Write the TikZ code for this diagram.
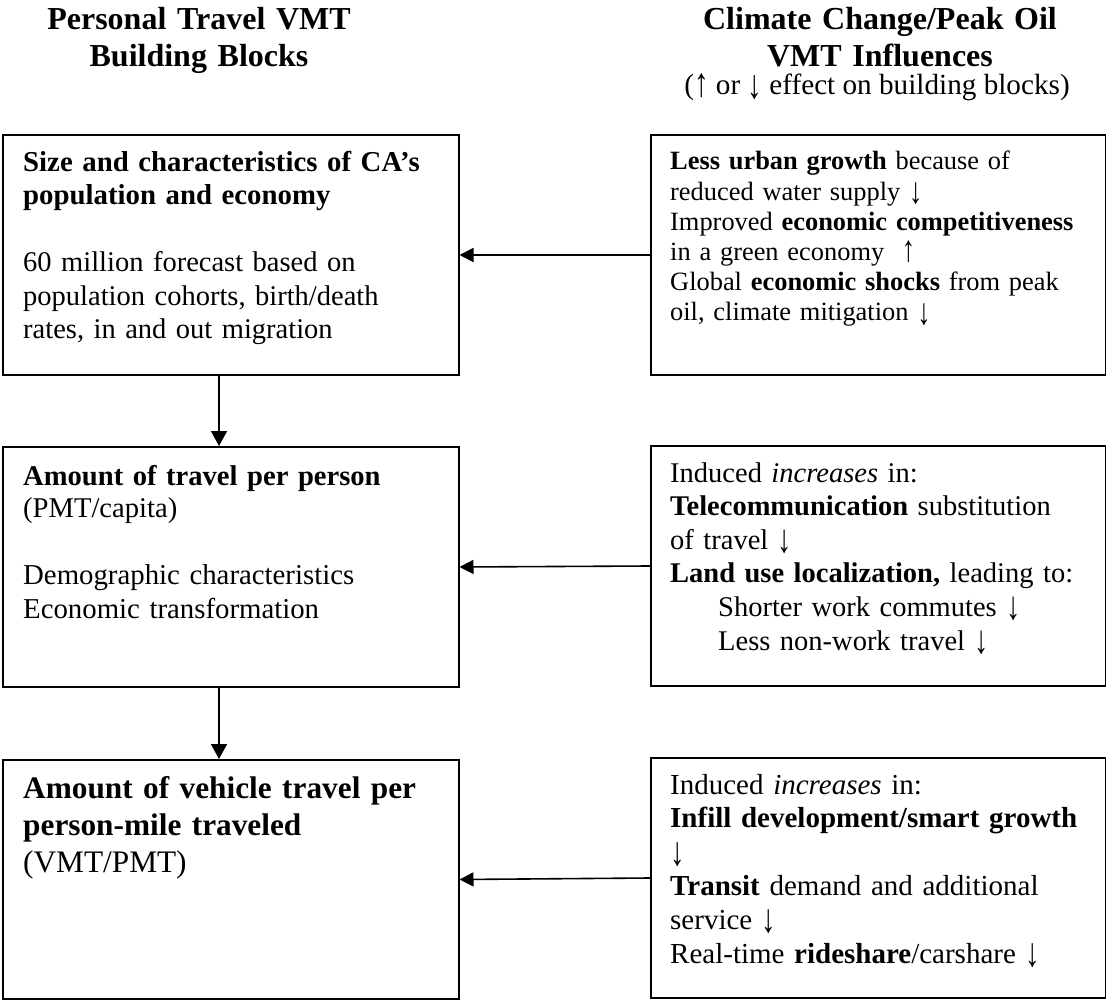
\documentclass[tikz,border=0pt]{standalone}
\usepackage{fontspec}
\setmainfont{Liberation Serif}
\usetikzlibrary{arrows.meta}
\newcommand{\dnarr}{\raisebox{-0.12em}{\scalebox{1}[1.4]{↓}}}
\newcommand{\uparr}{\raisebox{-0.05em}{\scalebox{1}[1.4]{↑}}}
\begin{document}
\begin{tikzpicture}[x=1pt,y=-1pt,
  box/.style={draw, line width=2pt, rectangle, inner sep=0pt, anchor=north west},
  conn/.style={line width=1.6pt, -{Triangle[length=14pt,width=14pt]}},
  vconn/.style={line width=1.6pt, -{Triangle[length=15pt,width=16pt]}},
  txt/.style={anchor=base west, inner sep=0pt, text width=432pt, align=left},
  hd/.style={anchor=base, inner sep=0pt, text width=420pt, align=center, font=\fontsize{32}{36.5}\selectfont\bfseries},
]
\useasboundingbox (0,0) rectangle (1106,1000);

% headings
\node[hd] (H1) at (199,30) {Personal Travel VMT\\Building Blocks};
\node[hd] (H2) at (880,30) {Climate Change/Peak Oil\\VMT Influences};
\node[anchor=base, inner sep=0pt, font=\fontsize{29.2}{32}\selectfont] (H3) at (877,95) {(\uparr{} or \dnarr{} effect on building blocks)};

% boxes
\node[box, minimum width=456pt, minimum height=240pt] (L1) at (1.5,134) {};
\node[box, minimum width=455pt, minimum height=240pt] (R1) at (650,134) {};
\node[box, minimum width=456pt, minimum height=240pt] (L2) at (1.5,446) {};
\node[box, minimum width=455pt, minimum height=240pt] (R2) at (650,445) {};
\node[box, minimum width=456pt, minimum height=239pt] (L3) at (1.5,759) {};
\node[box, minimum width=455pt, minimum height=240pt] (R3) at (650,757) {};

% left texts
\node[txt, font=\fontsize{28.8}{33}\selectfont\bfseries] (L1h) at (23,172) {Size and characteristics of CA’s\\population and economy};
\node[txt, font=\fontsize{28.5}{33.5}\selectfont] (L1b) at (23,272) {60 million forecast based on\\population cohorts, birth/death\\rates, in and out migration};

\node[txt, font=\fontsize{28.6}{32.5}\selectfont] (L2h) at (23,485) {\textbf{Amount of travel per person}\\(PMT/capita)};
\node[txt, font=\fontsize{28.8}{34}\selectfont] (L2b) at (23,584) {Demographic characteristics\\Economic transformation};

\node[txt, font=\fontsize{31.3}{37}\selectfont] (L3h) at (23,798) {\textbf{Amount of vehicle travel per}\\\textbf{person-mile traveled}\\(VMT/PMT)};

% right texts
\node[txt, font=\fontsize{26.4}{30.2}\selectfont] (R1t) at (670,170) {\textbf{Less urban growth} because of\\reduced water supply \dnarr\\Improved \textbf{economic competitiveness}\\in a green economy \ \uparr\\Global \textbf{economic shocks} from peak\\oil, climate mitigation \dnarr};

\node[txt, font=\fontsize{28.5}{33.6}\selectfont] (R2t) at (670,482) {Induced \textit{increases} in:\\\textbf{Telecommunication} substitution\\of travel \dnarr\\\textbf{Land use localization,} leading to:\\\hspace*{48pt}Shorter work commutes \dnarr\\\hspace*{48pt}Less non-work travel \dnarr};

\node[txt, font=\fontsize{29}{33.8}\selectfont] (R3t) at (670,794) {Induced \textit{increases} in:\\\textbf{Infill development/smart growth}\\\dnarr\\\textbf{Transit} demand and additional\\service \dnarr\\Real-time \textbf{rideshare}/carshare \dnarr};

% connectors
\draw[conn] (R1.west) -- (L1.east);
\draw[conn] (R2.west) -- (L2.east);
\draw[conn] (R3.west) -- (L3.east);
\draw[vconn] ([xshift=-11.5pt]L1.south) -- ([xshift=-11.5pt]L2.north);
\draw[vconn] ([xshift=-11.5pt]L2.south) -- ([xshift=-11.5pt]L3.north);
\end{tikzpicture}
\end{document}
